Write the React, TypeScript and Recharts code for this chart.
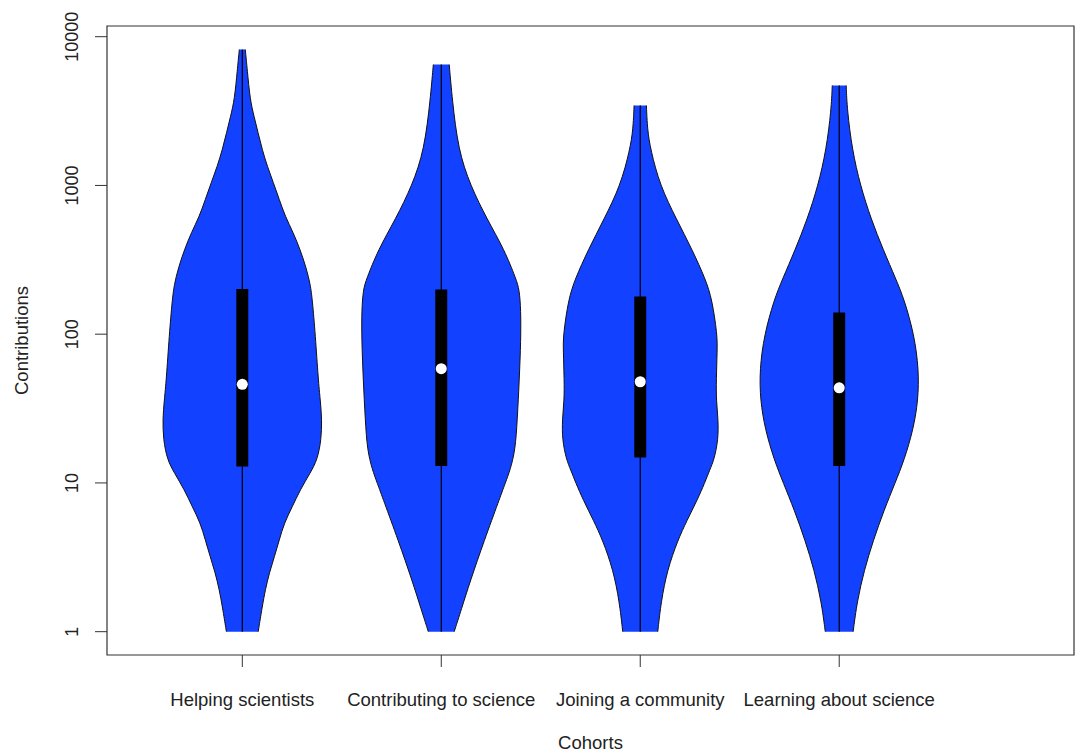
import { ComposedChart, Area, Line, Scatter, XAxis, YAxis, ReferenceArea } from 'recharts';

// cohorts on the x axis (positions 1..4)
const cohorts = ['Helping scientists', 'Contributing to science', 'Joining a community', 'Learning about science'];
const positions = [1, 2, 3, 4];

// violin outlines: contribution level -> half width (in category units)
const helpingLevels = [1, 1.47, 1.92, 2.49, 3.18, 4.14, 5.39, 6.9, 9, 11.7, 14.3, 19.5, 27, 36, 49, 99, 171, 216, 277, 370, 482, 618, 804, 1046, 1341, 1744, 2270, 2909, 3786, 6000, 8200];
const helpingWidths = [0.08, 0.1, 0.116, 0.136, 0.161, 0.186, 0.211, 0.251, 0.291, 0.342, 0.377, 0.397, 0.4, 0.392, 0.382, 0.367, 0.352, 0.342, 0.322, 0.291, 0.256, 0.216, 0.186, 0.156, 0.126, 0.1, 0.079, 0.059, 0.039, 0.025, 0.015];

const contributingLevels = [1, 1.4, 2.2, 4.1, 7.7, 10, 12.3, 16.7, 26.6, 49, 92, 146, 200, 233, 370, 590, 1000, 1740, 3800, 6500];
const contributingWidths = [0.065, 0.1, 0.146, 0.216, 0.291, 0.322, 0.347, 0.372, 0.382, 0.392, 0.4, 0.4, 0.392, 0.377, 0.317, 0.231, 0.146, 0.085, 0.055, 0.04];

const joiningLevels = [1, 1.6, 2.6, 4.1, 5.6, 7.7, 10, 12.3, 14.3, 19.5, 26.6, 36, 49, 79, 99, 171, 233, 370, 590, 1000, 1740, 2380, 3450];
const joiningWidths = [0.088, 0.105, 0.136, 0.188, 0.235, 0.287, 0.324, 0.35, 0.371, 0.392, 0.392, 0.382, 0.382, 0.387, 0.387, 0.361, 0.329, 0.261, 0.183, 0.099, 0.052, 0.036, 0.031];

const learningLevels = [1, 1.6, 2.6, 4.1, 6.6, 10, 14.3, 22.8, 36, 58, 99, 171, 233, 370, 590, 1000, 1740, 3240, 4700];
const learningWidths = [0.07, 0.09, 0.126, 0.171, 0.226, 0.281, 0.327, 0.372, 0.397, 0.4, 0.377, 0.327, 0.286, 0.221, 0.161, 0.106, 0.065, 0.04, 0.035];

// box statistics per cohort
const minima = [1, 1, 1, 1];
const maxima = [8200, 6500, 3450, 4700];
const lowerQuartiles = [12.9, 13, 14.8, 13];
const upperQuartiles = [201, 200, 179, 140];
const medians = [46, 58.6, 47.9, 43.6];

const X_DOMAIN = [0.32, 5.18];
const Y_DOMAIN = [0.697, 11800];
const Y_TICKS = [1, 10, 100, 1000, 10000];
const BOX_HALF = 0.03;
const FONT = '"Liberation Sans", Arial, Helvetica, sans-serif';
const VIOLIN_BLUE = '#1241ff';

const outlines = [
  [helpingLevels, helpingWidths],
  [contributingLevels, contributingWidths],
  [joiningLevels, joiningWidths],
  [learningLevels, learningWidths],
];

const violins = outlines.map(([levels, widths], i) =>
  levels.map((v, j) => ({ v, r: [positions[i] - widths[j], positions[i] + widths[j]] }))
);
const whiskers = positions.map((p, i) => [
  { v: minima[i], x: p },
  { v: maxima[i], x: p },
]);
const boxes = positions.map((p, i) => [
  { v: lowerQuartiles[i], r: [p - BOX_HALF, p + BOX_HALF] },
  { v: upperQuartiles[i], r: [p - BOX_HALF, p + BOX_HALF] },
]);
const medianPoints = positions.map((p, i) => ({ x: p, v: medians[i] }));

const YTick = (props: any) => {
  const { x, y, payload } = props;
  return (
    <text
      x={x}
      y={y}
      transform={`rotate(-90, ${x}, ${y})`}
      textAnchor="middle"
      fontSize={18}
      fontFamily={FONT}
      fill="#222"
    >
      {payload.value}
    </text>
  );
};

const MedianDot = (props: any) => <circle cx={props.cx} cy={props.cy} r={5.5} fill="#fff" />;

export default function App() {
  return (
    <div style={{ position: 'absolute', left: 0, top: 0, background: '#fff' }}>
      <ComposedChart
        width={1082}
        height={753}
        layout="vertical"
        margin={{ top: 26, right: 8, bottom: 0, left: 0 }}
      >
        <XAxis
          type="number"
          dataKey="x"
          domain={X_DOMAIN}
          allowDataOverflow
          ticks={positions}
          interval={0}
          tickFormatter={(v: number) => cohorts[v - 1]}
          height={98}
          axisLine={false}
          tickSize={12}
          tickMargin={26}
          tickLine={{ stroke: '#333' }}
          tick={{ fontSize: 18.5, fill: '#222', fontFamily: FONT }}
          label={{
            value: 'Cohorts',
            position: 'insideBottom',
            offset: 4,
            style: { fontSize: 18.5, fill: '#222', fontFamily: FONT },
          }}
        />
        <YAxis
          type="number"
          dataKey="v"
          scale="log"
          reversed
          domain={Y_DOMAIN}
          allowDataOverflow
          ticks={Y_TICKS}
          interval={0}
          width={107}
          axisLine={false}
          tickSize={12}
          tickMargin={17}
          tickLine={{ stroke: '#333' }}
          tick={YTick}
          label={{
            value: 'Contributions',
            angle: -90,
            position: 'insideLeft',
            offset: 21,
            style: { fontSize: 18.5, fill: '#222', fontFamily: FONT, textAnchor: 'middle' },
          }}
        />
        <ReferenceArea
          x1={X_DOMAIN[0]}
          x2={X_DOMAIN[1]}
          y1={Y_DOMAIN[0]}
          y2={Y_DOMAIN[1]}
          fill="none"
          stroke="#333"
          strokeWidth={1.2}
          ifOverflow="visible"
        />
        {violins.map((data, i) => (
          <Area
            key={`violin-${i}`}
            data={data}
            dataKey="r"
            type="basis"
            fill={VIOLIN_BLUE}
            fillOpacity={1}
            stroke="#111"
            strokeWidth={1}
            dot={false}
            activeDot={false}
            isAnimationActive={false}
          />
        ))}
        {whiskers.map((data, i) => (
          <Line
            key={`whisker-${i}`}
            data={data}
            dataKey="x"
            type="linear"
            stroke="#000"
            strokeWidth={1.2}
            dot={false}
            activeDot={false}
            isAnimationActive={false}
          />
        ))}
        {boxes.map((data, i) => (
          <Area
            key={`box-${i}`}
            data={data}
            dataKey="r"
            type="linear"
            fill="#000"
            fillOpacity={1}
            stroke="none"
            dot={false}
            activeDot={false}
            isAnimationActive={false}
          />
        ))}
        <Scatter data={medianPoints} shape={MedianDot} isAnimationActive={false} />
      </ComposedChart>
    </div>
  );
}
